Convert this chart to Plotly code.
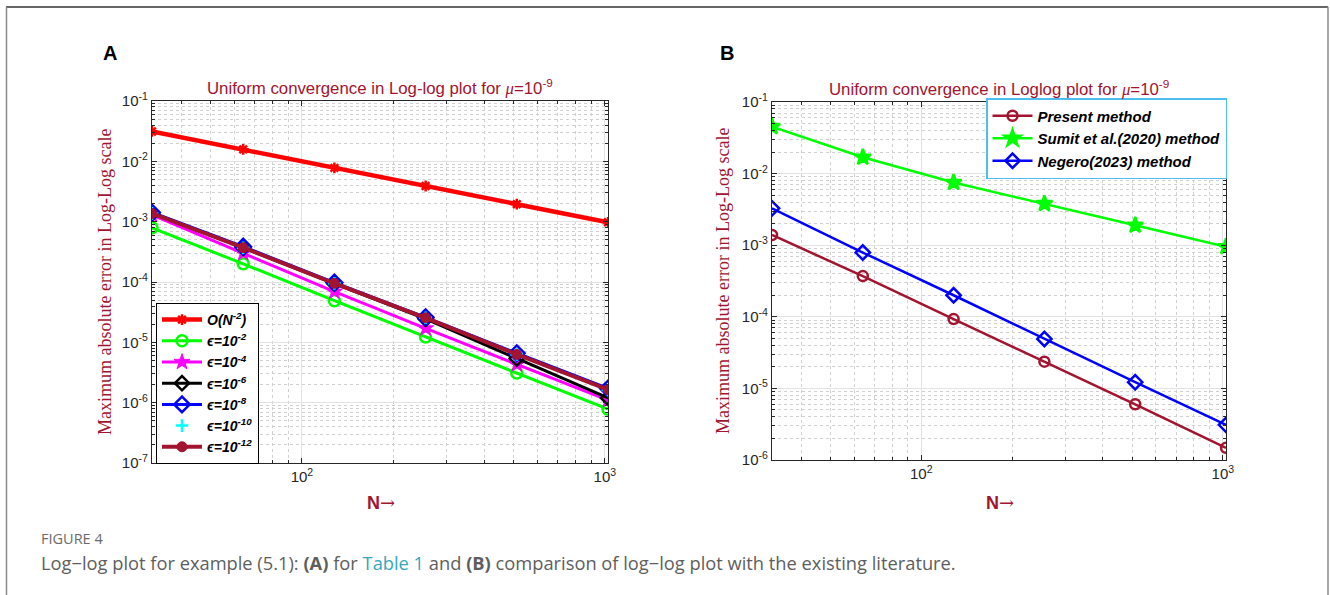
import plotly.graph_objects as go

# ---------------- data ----------------
N = [32, 64, 128, 256, 512, 1024]

# Panel A
order_ref = [0.0313, 0.0158, 0.0078, 0.0039, 0.00195, 0.000977]
eps_1e2 = [7.9e-4, 2.0e-4, 4.9e-5, 1.23e-5, 3.1e-6, 7.8e-7]
eps_1e4 = [1.29e-3, 3.0e-4, 6.9e-5, 1.7e-5, 4.3e-6, 1.1e-6]
eps_1e6 = [1.38e-3, 3.7e-4, 9.4e-5, 2.45e-5, 5.4e-6, 1.2e-6]
eps_1e8 = [1.42e-3, 3.85e-4, 9.8e-5, 2.6e-5, 6.6e-6, 1.72e-6]
eps_1e10 = [1.37e-3, 3.7e-4, 9.5e-5, 2.55e-5, 6.3e-6, 1.62e-6]
eps_1e12 = [1.37e-3, 3.7e-4, 9.5e-5, 2.55e-5, 6.3e-6, 1.65e-6]

# Panel B
present = [1.39e-3, 3.7e-4, 9.3e-5, 2.36e-5, 6.0e-6, 1.48e-6]
sumit = [0.0452, 0.0169, 0.0075, 0.0038, 0.0019, 0.00095]
negero = [3.27e-3, 7.9e-4, 2.0e-4, 4.9e-5, 1.22e-5, 3.1e-6]

x_tickvals = [100, 1000]
x_ticktext = ["10<sup>2</sup>", "10<sup>3</sup>"]
yA_tickvals = [1e-7, 1e-6, 1e-5, 1e-4, 1e-3, 1e-2, 1e-1]
yA_ticktext = ["10<sup>-7</sup>", "10<sup>-6</sup>", "10<sup>-5</sup>", "10<sup>-4</sup>",
               "10<sup>-3</sup>", "10<sup>-2</sup>", "10<sup>-1</sup>"]
yB_tickvals = [1e-6, 1e-5, 1e-4, 1e-3, 1e-2, 1e-1]
yB_ticktext = ["10<sup>-6</sup>", "10<sup>-5</sup>", "10<sup>-4</sup>",
               "10<sup>-3</sup>", "10<sup>-2</sup>", "10<sup>-1</sup>"]
minor_digits = [2, 3, 4, 5, 6, 7, 8, 9]
x_minor = [d * 10 ** e for e in (1, 2, 3) for d in minor_digits]
y_minor = [d * 10.0 ** e for e in range(-8, 0) for d in minor_digits]

# ---------------- style ----------------
W, H = 1330, 595
RED_T = "rgb(162,20,47)"
AX = "#262626"
SANS = "Liberation Sans, Arial, sans-serif"
SERIF = "Liberation Serif, DejaVu Serif, serif"
CAP = "Open Sans, Lato, sans-serif"


def px(x):
    return x / W


def py(y):
    return 1 - y / H


fig = go.Figure()

seriesA = [
    ("<b><i>O(N<sup>-2</sup>)</i></b>", order_ref, "rgb(255,0,0)", "asterisk-open", 9, 4.5, "lines+markers", False),
    ("<b><i>ϵ=10<sup>-2</sup></i></b>", eps_1e2, "rgb(0,255,0)", "circle-open", 11, 3, "lines+markers", False),
    ("<b><i>ϵ=10<sup>-4</sup></i></b>", eps_1e4, "rgb(255,0,255)", "star", 12, 3, "lines+markers", True),
    ("<b><i>ϵ=10<sup>-6</sup></i></b>", eps_1e6, "rgb(0,0,0)", "diamond-open", 11, 3, "lines+markers", False),
    ("<b><i>ϵ=10<sup>-8</sup></i></b>", eps_1e8, "rgb(0,0,255)", "diamond-open", 12, 3, "lines+markers", False),
    ("<b><i>ϵ=10<sup>-10</sup></i></b>", eps_1e10, "rgb(0,255,255)", "cross-thin-open", 9, 3, "markers", False),
    ("<b><i>ϵ=10<sup>-12</sup></i></b>", eps_1e12, RED_T, "circle", 10, 4, "lines+markers", True),
]
for i, (name, y, col, sym, size, lw, mode, filled) in enumerate(seriesA):
    fig.add_trace(go.Scatter(
        x=N, y=y, name=name, mode=mode, xaxis="x", yaxis="y", legend="legend",
        legendgroup=f"a{i}",
        line=dict(color=col, width=lw),
        marker=dict(symbol=sym, size=size, color=col,
                    line=dict(color=col, width=2.5 if not filled else 1)),
    ))

seriesB = [
    ("<b><i>Present method</i></b>", present, RED_T, "circle-open", 10, 2.5),
    ("<b><i>Sumit et al.(2020) method</i></b>", sumit, "rgb(0,255,0)", "star", 12, 2.5),
    ("<b><i>Negero(2023) method</i></b>", negero, "rgb(0,0,255)", "diamond-open", 11, 2.5),
]
for i, (name, y, col, sym, size, lw) in enumerate(seriesB):
    fig.add_trace(go.Scatter(
        x=N, y=y, name=name, mode="lines+markers", xaxis="x2", yaxis="y2", legend="legend2",
        legendgroup=f"b{i}",
        line=dict(color=col, width=lw),
        marker=dict(symbol=sym, size=size, color=col, line=dict(color=col, width=2.5)),
    ))

MINOR_STYLE = dict(ticks="inside", ticklen=3, tickcolor=AX, showgrid=True,
                   gridcolor="#d0d0d0", griddash="dot", gridwidth=1, tickmode="array")


def xaxis(domain, anchor):
    return dict(
        type="log", domain=domain, anchor=anchor, range=[1.50515, 3.0103],
        tickvals=x_tickvals, ticktext=x_ticktext, ticks="inside", ticklen=5,
        tickcolor=AX, showline=True, linecolor=AX, linewidth=1.2, mirror="allticks",
        showgrid=True, gridcolor="#e2e2e2", gridwidth=1.2,
        minor=dict(tickvals=x_minor, **MINOR_STYLE),
        tickfont=dict(family=SANS, size=15, color=AX), zeroline=False,
    )


def yaxis(domain, anchor, rng, tv, tt):
    return dict(
        type="log", domain=domain, anchor=anchor, range=rng,
        tickvals=tv, ticktext=tt, ticks="inside", ticklen=5,
        tickcolor=AX, showline=True, linecolor=AX, linewidth=1.2, mirror="allticks",
        showgrid=True, gridcolor="#e2e2e2", gridwidth=1.2,
        minor=dict(tickvals=y_minor, **MINOR_STYLE),
        tickfont=dict(family=SANS, size=15, color=AX), zeroline=False,
    )


annotations = [
    dict(text="<b>A</b>", x=px(110), y=py(53), font=dict(family=SANS, size=20, color="black")),
    dict(text="<b>B</b>", x=px(727), y=py(53), font=dict(family=SANS, size=20, color="black")),
    dict(text="Uniform convergence in Log-log plot for <i><span style='font-family:Liberation Serif'>μ</span></i>=10<sup>-9</sup>",
         x=px(380), y=py(87), font=dict(family=SANS, size=16.8, color=RED_T)),
    dict(text="Uniform convergence in Loglog plot for <i><span style='font-family:Liberation Serif'>μ</span></i>=10<sup>-9</sup>",
         x=px(999), y=py(88), font=dict(family=SANS, size=16.8, color=RED_T)),
    dict(text="Maximum absolute error in Log-Log scale", x=px(105), y=py(282), textangle=-90,
         font=dict(family=SERIF, size=18, color=RED_T)),
    dict(text="Maximum absolute error in Log-Log scale", x=px(723), y=py(281), textangle=-90,
         font=dict(family=SERIF, size=18, color=RED_T)),
    dict(text="<b>N</b><span style='font-family:DejaVu Serif'>→</span>", x=px(381), y=py(502),
         font=dict(family=SANS, size=18, color=RED_T)),
    dict(text="<b>N</b><span style='font-family:DejaVu Serif'>→</span>", x=px(1000), y=py(502),
         font=dict(family=SANS, size=18, color=RED_T)),
    dict(text="FIGURE 4", x=px(39), y=py(538), xanchor="left",
         font=dict(family=CAP, size=14.5, color="#6b6b6b")),
    dict(text="Log−log plot for example (5.1): <b>(A)</b> for <span style='color:#34a7bd'>Table 1</span> and <b>(B)</b> comparison of log−log plot with the existing literature.",
         x=px(39), y=py(562), xanchor="left",
         font=dict(family=CAP, size=18.3, color="#5e5e5e")),
]
for a in annotations:
    a.setdefault("xanchor", "center")
    a.update(xref="paper", yref="paper", yanchor="middle", showarrow=False)

shapes = [
    dict(type="line", xref="paper", yref="paper", x0=px(6), x1=px(1328), y0=py(7), y1=py(7),
         line=dict(color="#333333", width=1.5)),
    dict(type="line", xref="paper", yref="paper", x0=px(6.5), x1=px(6.5), y0=py(7), y1=py(600),
         line=dict(color="#8a8a8a", width=1.5)),
    dict(type="line", xref="paper", yref="paper", x0=px(1328), x1=px(1328), y0=py(7), y1=py(600),
         line=dict(color="#8a8a8a", width=1.5)),
]

fig.update_layout(
    width=W, height=H, margin=dict(l=0, r=0, t=0, b=0, autoexpand=False),
    paper_bgcolor="white", plot_bgcolor="white", showlegend=True,
    xaxis=xaxis([px(152), px(608)], "y"),
    yaxis=yaxis([py(463), py(101)], "x", [-7, -1], yA_tickvals, yA_ticktext),
    xaxis2=xaxis([px(772), px(1226)], "y2"),
    yaxis2=yaxis([py(460), py(102)], "x2", [-6, -1], yB_tickvals, yB_ticktext),
    legend=dict(x=px(156), y=py(303), xanchor="left", yanchor="top",
                bgcolor="white", bordercolor="black", borderwidth=1,
                font=dict(family=SANS, size=14, color="black"), tracegroupgap=0,
                itemwidth=40),
    legend2=dict(x=px(986), y=py(98), xanchor="left", yanchor="top",
                 bgcolor="white", bordercolor="#4DBEEE", borderwidth=1.5,
                 font=dict(family=SANS, size=15, color="black"), tracegroupgap=0,
                 itemwidth=40),
    annotations=annotations, shapes=shapes,
)

fig.write_html("out.html", config={"displayModeBar": False},
               post_script="document.body.style.margin='0';")
